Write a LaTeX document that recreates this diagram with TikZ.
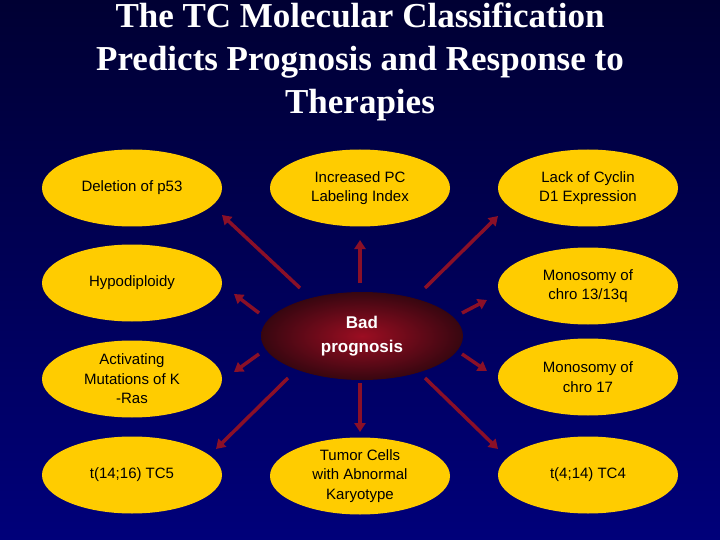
\documentclass[tikz,border=0pt]{standalone}
\usepackage{fontspec}
\setmainfont{Liberation Serif}
\newfontfamily\armain{Liberation Sans}
\usetikzlibrary{shapes.geometric,arrows.meta}
\definecolor{tcyellow}{HTML}{FFCC00}
\definecolor{tcred}{HTML}{8A1028}
\definecolor{tctop}{HTML}{000033}
\definecolor{tcbot}{HTML}{00007A}
\tikzset{
  factor/.style={ellipse, fill=tcyellow, minimum width=180pt, minimum height=77pt,
    inner sep=0pt, align=center, font=\armain\fontsize{15}{19.5}\selectfont},
  link/.style={tcred, line width=3.5pt, -{Triangle[length=9pt,width=11pt]}}
}
\begin{document}
\begin{tikzpicture}[x=1pt, y=-1pt]
\shade[top color=tctop, bottom color=tcbot] (0,0) rectangle (720,540);
\useasboundingbox (0,0) rectangle (720,540);
\node[text=white, align=center, font=\bfseries\fontsize{35}{43}\selectfont] (title) at (360,62)
  {The TC Molecular Classification\\Predicts Prognosis and Response to\\Therapies};
% factors
\node[factor] (p53) at (132,188) {Deletion of p53};
\node[factor] (pcli) at (360,188) {Increased PC\\Labeling Index};
\node[factor] (ccnd) at (588,188) {Lack of Cyclin\\D1 Expression};
\node[factor] (hypo) at (132,283) {Hypodiploidy};
\node[factor] (mono13) at (588,286) {Monosomy of\\chro 13/13q};
\node[factor] (kras) at (132,379) {Activating\\Mutations of K\\-Ras};
\node[factor] (mono17) at (588,377) {Monosomy of\\chro 17};
\node[factor] (tc5) at (132,475) {t(14;16) TC5};
\node[factor] (karyo) at (360,476) {Tumor Cells\\with Abnormal\\Karyotype};
\node[factor] (tc4) at (588,475) {t(4;14) TC4};
% center
\node[ellipse, minimum width=202pt, minimum height=88pt, inner color=tcred!85!red, outer color=tcred!40!black,
  text=white, align=center, font=\armain\bfseries\fontsize{17}{24}\selectfont] (bad) at (362,336) {Bad\\prognosis};
% arrows
\coordinate (a1) at (300,288); \coordinate (b1) at (222,215);
\coordinate (a2) at (360,283); \coordinate (b2) at (360,240);
\coordinate (a3) at (425,288); \coordinate (b3) at (498,216);
\coordinate (a4) at (259,313); \coordinate (b4) at (234,294);
\coordinate (a5) at (462,313); \coordinate (b5) at (487,300);
\coordinate (a6) at (259,354); \coordinate (b6) at (234,372);
\coordinate (a7) at (462,354); \coordinate (b7) at (487,371);
\coordinate (a8) at (288,378); \coordinate (b8) at (216,449);
\coordinate (a9) at (360,383); \coordinate (b9) at (360,432);
\coordinate (a10) at (425,378); \coordinate (b10) at (498,449);
\foreach \i in {1,...,10}
  \draw[link] (a\i) -- (b\i);
\end{tikzpicture}
\end{document}
